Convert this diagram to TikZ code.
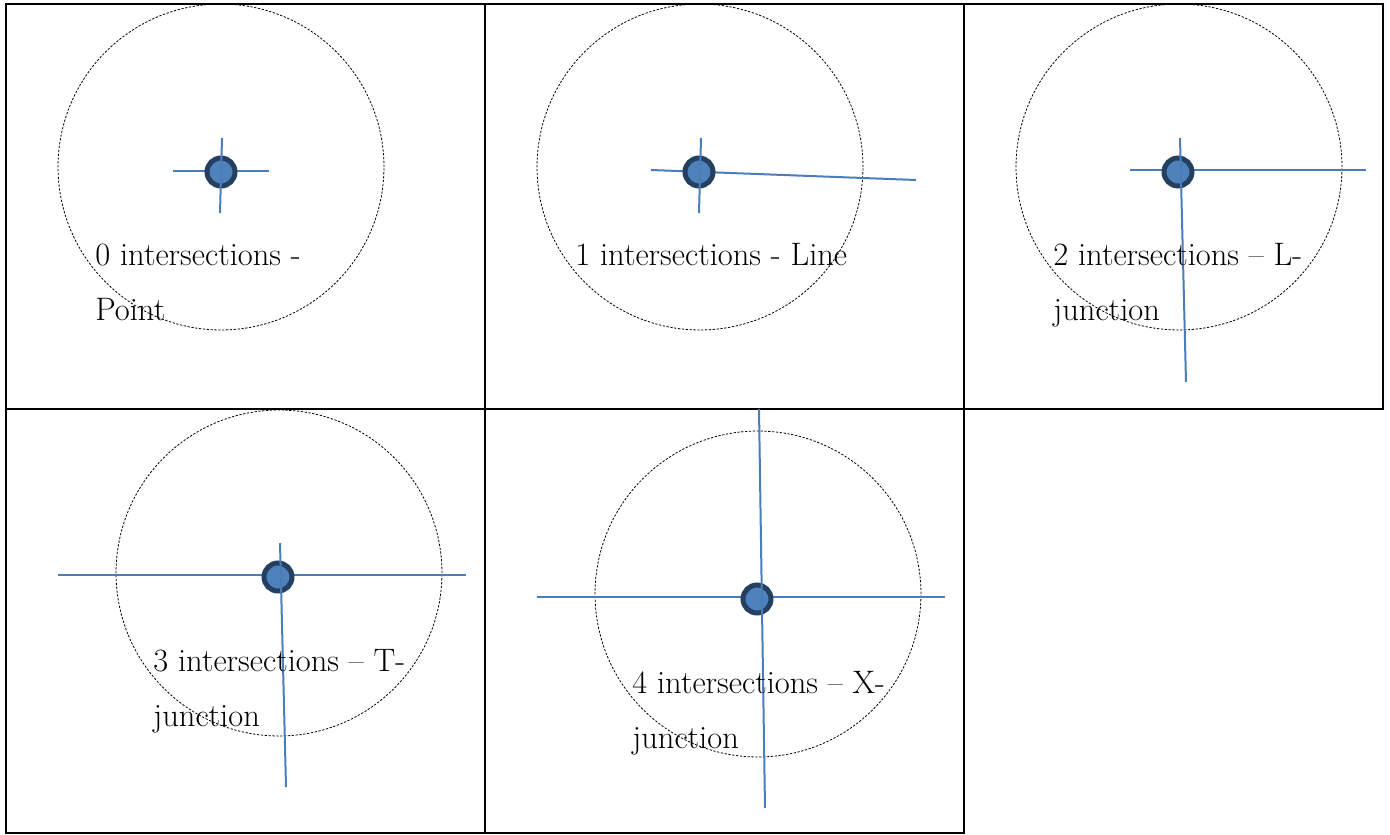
\documentclass[tikz,border=0pt]{standalone}
\usepackage{tikz}
\usepackage{xcolor}
\usetikzlibrary{positioning}

\definecolor{segblue}{RGB}{74,126,187}
\definecolor{dotfill}{RGB}{79,129,189}
\definecolor{dotrim}{RGB}{36,63,96}

\begin{document}
\begin{tikzpicture}[
            x=0.02cm, y=-0.02cm,
            cell/.style={draw, line width=0.04cm},
            window/.style={circle, draw, dash pattern=on 1.3pt off 0.9pt, line width=0.45pt,
                           minimum size=6.52cm, inner sep=0pt},
            seg/.style={draw=segblue, line width=0.04cm},
            junc/.style={circle, draw=dotrim, fill=dotfill, line width=0.1cm,
                         minimum size=0.56cm, inner sep=0pt},
            lbl/.style={anchor=base west, align=left, inner sep=0pt,
                        font=\fontsize{18.5}{31.3}\selectfont}
        ]
            \useasboundingbox (0,0) rectangle (1390,835);

            % Table
            \draw[cell] (6,4) rectangle (1383,409);
            \draw[cell] (6,409) rectangle (964,833);
            \draw[cell] (485,4) -- (485,833);
            \draw[cell] (964,4) -- (964,409);

            % 0 intersections
            \node[window] (w0) at (221,167) {};
            \coordinate (h0a) at (173,171); \coordinate (h0b) at (269,171);
            \coordinate (v0a) at (222,138); \coordinate (v0b) at (220,213);
            \draw[seg] (h0a) -- (h0b);
            \node[junc] (p0) at (221,172) {};
            \draw[seg] (v0a) -- (v0b);
            \node[lbl] (t0) at (95,320) {0 intersections -\\Point};

            % 1 intersection
            \node[window] (w1) at (700,167) {};
            \coordinate (h1a) at (651,170); \coordinate (h1b) at (916,180);
            \coordinate (v1a) at (701,138); \coordinate (v1b) at (699,213);
            \draw[seg] (h1a) -- (h1b);
            \node[junc] (p1) at (699,172) {};
            \draw[seg] (v1a) -- (v1b);
            \node[lbl] (t1) at (575,265) {1 intersections - Line};

            % 2 intersections
            \node[window] (w2) at (1179,167) {};
            \coordinate (h2a) at (1130,170); \coordinate (h2b) at (1366,170);
            \coordinate (v2a) at (1180,138); \coordinate (v2b) at (1186,382);
            \draw[seg] (h2a) -- (h2b);
            \node[junc] (p2) at (1178,172) {};
            \draw[seg] (v2a) -- (v2b);
            \node[lbl] (t2) at (1053,320) {2 intersections -- L-\\junction};

            % 3 intersections
            \node[window] (w3) at (279,573) {};
            \coordinate (h3a) at (58,575); \coordinate (h3b) at (466,575);
            \coordinate (v3a) at (280,543); \coordinate (v3b) at (286,787);
            \draw[seg] (h3a) -- (h3b);
            \node[junc] (p3) at (278,577) {};
            \draw[seg] (v3a) -- (v3b);
            \node[lbl] (t3) at (153,726) {3 intersections -- T-\\junction};

            % 4 intersections
            \node[window] (w4) at (758,594) {};
            \coordinate (h4a) at (537,597); \coordinate (h4b) at (945,597);
            \coordinate (v4a) at (759,409); \coordinate (v4b) at (765,808);
            \draw[seg] (h4a) -- (h4b);
            \node[junc] (p4) at (757,599) {};
            \draw[seg] (v4a) -- (v4b);
            \node[lbl] (t4) at (632,748) {4 intersections -- X-\\junction};
        \end{tikzpicture}
\end{document}
